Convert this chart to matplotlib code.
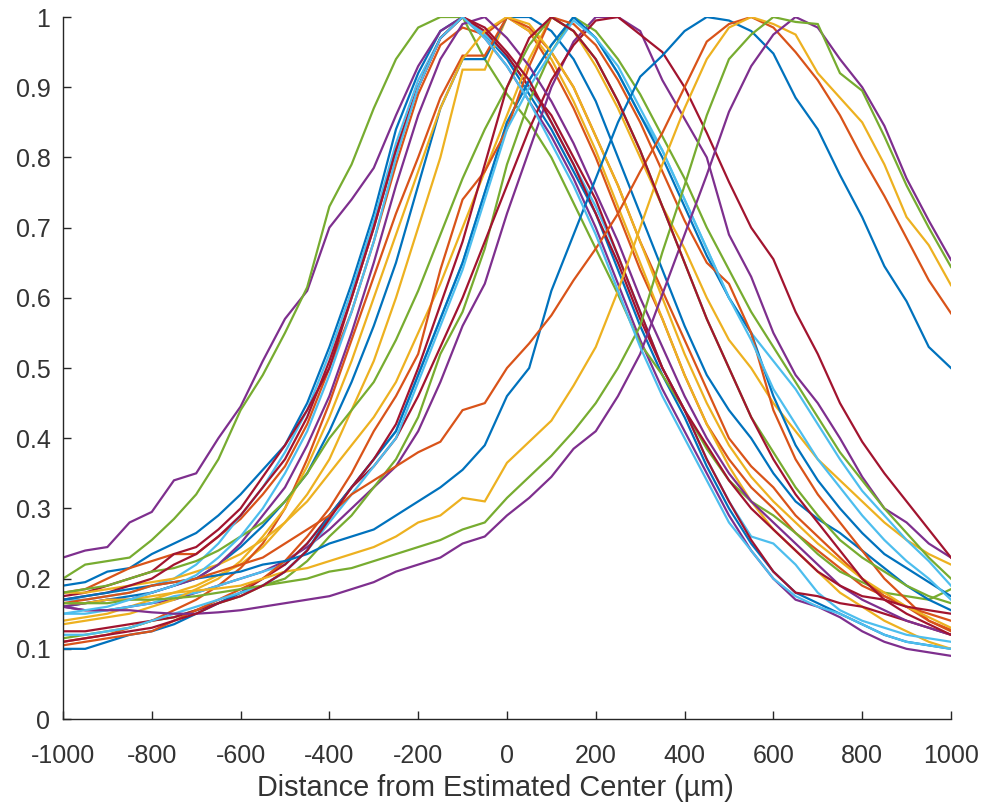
import matplotlib
matplotlib.use("Agg")
import matplotlib.pyplot as plt

plt.rcParams['font.family'] = ['Liberation Sans', 'DejaVu Sans']
plt.rcParams['axes.unicode_minus'] = False

# sample positions (um)
distance_um = list(range(-1000, 1001, 50))

# normalised profiles
profile_01 = [0.19, 0.195, 0.21, 0.215, 0.235, 0.25, 0.265, 0.29, 0.32, 0.355, 0.39, 0.45, 0.53, 0.62, 0.72, 0.84, 0.92, 0.98, 1.0, 0.975, 0.94, 0.89, 0.84, 0.78, 0.72, 0.64, 0.56, 0.49, 0.43, 0.36, 0.30, 0.25, 0.21, 0.18, 0.165, 0.15, 0.135, 0.12, 0.11, 0.105, 0.10]
profile_02 = [0.18, 0.185, 0.20, 0.215, 0.225, 0.235, 0.235, 0.26, 0.285, 0.32, 0.36, 0.42, 0.50, 0.58, 0.68, 0.79, 0.89, 0.96, 0.985, 0.975, 1.0, 0.98, 0.93, 0.87, 0.80, 0.72, 0.64, 0.57, 0.49, 0.42, 0.37, 0.33, 0.30, 0.265, 0.24, 0.215, 0.19, 0.175, 0.16, 0.15, 0.14]
profile_03 = [0.14, 0.145, 0.15, 0.16, 0.17, 0.18, 0.19, 0.205, 0.22, 0.245, 0.28, 0.32, 0.37, 0.44, 0.51, 0.60, 0.70, 0.80, 0.925, 0.925, 1.0, 0.98, 0.94, 0.88, 0.81, 0.73, 0.65, 0.57, 0.49, 0.42, 0.36, 0.31, 0.27, 0.24, 0.21, 0.18, 0.16, 0.14, 0.125, 0.11, 0.10]
profile_04 = [0.23, 0.24, 0.245, 0.28, 0.295, 0.34, 0.35, 0.40, 0.445, 0.51, 0.57, 0.61, 0.70, 0.74, 0.785, 0.86, 0.93, 0.98, 1.0, 0.97, 0.93, 0.88, 0.83, 0.77, 0.70, 0.62, 0.54, 0.47, 0.41, 0.35, 0.29, 0.24, 0.20, 0.17, 0.16, 0.145, 0.125, 0.11, 0.10, 0.095, 0.09]
profile_05 = [0.20, 0.22, 0.225, 0.23, 0.255, 0.285, 0.32, 0.37, 0.44, 0.49, 0.55, 0.615, 0.73, 0.79, 0.87, 0.94, 0.985, 1.0, 1.0, 0.94, 0.89, 0.85, 0.80, 0.735, 0.67, 0.605, 0.535, 0.49, 0.44, 0.385, 0.34, 0.31, 0.29, 0.265, 0.235, 0.21, 0.195, 0.18, 0.175, 0.17, 0.185]
profile_06 = [0.17, 0.17, 0.175, 0.18, 0.19, 0.20, 0.22, 0.25, 0.29, 0.33, 0.38, 0.44, 0.52, 0.61, 0.71, 0.82, 0.91, 0.97, 1.0, 0.975, 0.945, 0.90, 0.85, 0.79, 0.73, 0.66, 0.58, 0.50, 0.44, 0.37, 0.31, 0.26, 0.25, 0.22, 0.18, 0.155, 0.14, 0.13, 0.12, 0.115, 0.11]
profile_07 = [0.175, 0.18, 0.19, 0.20, 0.21, 0.235, 0.245, 0.27, 0.30, 0.345, 0.39, 0.44, 0.50, 0.60, 0.70, 0.81, 0.90, 0.97, 1.0, 0.98, 0.945, 0.90, 0.86, 0.80, 0.74, 0.66, 0.58, 0.50, 0.44, 0.37, 0.31, 0.255, 0.21, 0.18, 0.175, 0.165, 0.16, 0.15, 0.14, 0.13, 0.12]
profile_08 = [0.16, 0.165, 0.17, 0.175, 0.18, 0.19, 0.20, 0.22, 0.245, 0.275, 0.31, 0.35, 0.41, 0.48, 0.56, 0.65, 0.76, 0.87, 0.94, 0.94, 1.0, 1.0, 0.98, 0.94, 0.88, 0.80, 0.72, 0.64, 0.56, 0.49, 0.44, 0.40, 0.35, 0.31, 0.285, 0.265, 0.24, 0.215, 0.19, 0.17, 0.155]
profile_09 = [0.11, 0.115, 0.12, 0.13, 0.14, 0.155, 0.17, 0.19, 0.215, 0.25, 0.30, 0.37, 0.45, 0.54, 0.63, 0.72, 0.80, 0.885, 0.945, 0.945, 1.0, 0.985, 0.95, 0.90, 0.83, 0.76, 0.68, 0.61, 0.54, 0.47, 0.40, 0.36, 0.33, 0.29, 0.26, 0.23, 0.20, 0.175, 0.16, 0.14, 0.125]
profile_10 = [0.18, 0.18, 0.185, 0.19, 0.195, 0.20, 0.21, 0.22, 0.235, 0.255, 0.28, 0.31, 0.35, 0.39, 0.43, 0.48, 0.55, 0.62, 0.70, 0.78, 0.86, 0.94, 1.0, 0.98, 0.93, 0.87, 0.80, 0.73, 0.67, 0.60, 0.54, 0.50, 0.45, 0.41, 0.37, 0.34, 0.31, 0.28, 0.255, 0.235, 0.22]
profile_11 = [0.16, 0.155, 0.155, 0.16, 0.165, 0.17, 0.18, 0.19, 0.20, 0.21, 0.225, 0.245, 0.27, 0.30, 0.33, 0.36, 0.41, 0.48, 0.56, 0.62, 0.72, 0.81, 0.90, 0.965, 1.0, 1.0, 0.98, 0.91, 0.855, 0.80, 0.69, 0.63, 0.55, 0.49, 0.45, 0.40, 0.345, 0.30, 0.28, 0.25, 0.23]
profile_12 = [0.115, 0.12, 0.125, 0.13, 0.14, 0.145, 0.155, 0.165, 0.175, 0.19, 0.20, 0.225, 0.26, 0.29, 0.33, 0.37, 0.43, 0.52, 0.58, 0.67, 0.79, 0.88, 0.95, 1.0, 0.98, 0.94, 0.89, 0.83, 0.77, 0.70, 0.64, 0.58, 0.53, 0.48, 0.43, 0.38, 0.34, 0.30, 0.265, 0.23, 0.20]
profile_13 = [0.15, 0.15, 0.155, 0.16, 0.165, 0.175, 0.18, 0.19, 0.20, 0.21, 0.22, 0.25, 0.29, 0.33, 0.37, 0.41, 0.49, 0.57, 0.65, 0.75, 0.85, 0.91, 0.96, 1.0, 0.97, 0.92, 0.86, 0.81, 0.74, 0.67, 0.60, 0.55, 0.51, 0.47, 0.42, 0.37, 0.325, 0.29, 0.255, 0.225, 0.19]
profile_14 = [0.125, 0.125, 0.13, 0.135, 0.14, 0.145, 0.155, 0.165, 0.18, 0.20, 0.22, 0.25, 0.29, 0.33, 0.36, 0.40, 0.46, 0.53, 0.60, 0.68, 0.76, 0.84, 0.91, 0.96, 0.995, 1.0, 0.975, 0.95, 0.90, 0.835, 0.765, 0.70, 0.655, 0.58, 0.52, 0.45, 0.395, 0.35, 0.31, 0.27, 0.23]
profile_15 = [0.10, 0.10, 0.11, 0.12, 0.125, 0.135, 0.15, 0.165, 0.18, 0.19, 0.21, 0.24, 0.29, 0.33, 0.37, 0.41, 0.49, 0.57, 0.65, 0.75, 0.85, 0.91, 0.96, 1.0, 0.97, 0.92, 0.86, 0.80, 0.73, 0.66, 0.60, 0.55, 0.46, 0.39, 0.34, 0.30, 0.265, 0.235, 0.215, 0.195, 0.175]
profile_16 = [0.105, 0.11, 0.115, 0.12, 0.125, 0.14, 0.155, 0.17, 0.185, 0.20, 0.225, 0.26, 0.30, 0.35, 0.41, 0.46, 0.52, 0.64, 0.74, 0.78, 0.84, 0.93, 1.0, 0.99, 0.96, 0.91, 0.85, 0.78, 0.71, 0.65, 0.62, 0.55, 0.44, 0.37, 0.32, 0.28, 0.24, 0.20, 0.17, 0.14, 0.127]
profile_17 = [0.135, 0.14, 0.145, 0.15, 0.16, 0.17, 0.185, 0.20, 0.225, 0.26, 0.30, 0.36, 0.43, 0.51, 0.60, 0.69, 0.78, 0.87, 0.94, 0.98, 1.0, 0.99, 0.95, 0.90, 0.83, 0.76, 0.68, 0.60, 0.52, 0.45, 0.39, 0.345, 0.31, 0.28, 0.25, 0.225, 0.20, 0.18, 0.16, 0.145, 0.13]
profile_18 = [0.16, 0.165, 0.17, 0.17, 0.18, 0.19, 0.20, 0.22, 0.25, 0.29, 0.33, 0.39, 0.46, 0.55, 0.65, 0.76, 0.86, 0.94, 0.99, 1.0, 0.97, 0.93, 0.88, 0.82, 0.75, 0.68, 0.60, 0.53, 0.46, 0.40, 0.35, 0.31, 0.28, 0.25, 0.22, 0.19, 0.17, 0.155, 0.14, 0.13, 0.12]
profile_19 = [0.18, 0.185, 0.19, 0.20, 0.21, 0.215, 0.225, 0.24, 0.26, 0.28, 0.31, 0.35, 0.40, 0.44, 0.48, 0.54, 0.61, 0.69, 0.77, 0.84, 0.90, 0.96, 1.0, 0.98, 0.94, 0.88, 0.81, 0.73, 0.65, 0.57, 0.50, 0.43, 0.38, 0.33, 0.29, 0.255, 0.23, 0.21, 0.19, 0.175, 0.165]
profile_20 = [0.12, 0.12, 0.125, 0.13, 0.14, 0.15, 0.16, 0.17, 0.18, 0.19, 0.21, 0.24, 0.28, 0.32, 0.36, 0.40, 0.48, 0.56, 0.64, 0.74, 0.84, 0.90, 0.95, 0.995, 0.97, 0.93, 0.87, 0.81, 0.74, 0.67, 0.60, 0.54, 0.47, 0.42, 0.37, 0.33, 0.29, 0.255, 0.225, 0.20, 0.17]
profile_21 = [0.17, 0.175, 0.18, 0.19, 0.20, 0.22, 0.235, 0.26, 0.29, 0.33, 0.37, 0.43, 0.51, 0.60, 0.70, 0.81, 0.90, 0.97, 1.0, 0.985, 0.95, 0.91, 0.85, 0.79, 0.72, 0.65, 0.57, 0.50, 0.44, 0.39, 0.34, 0.30, 0.27, 0.24, 0.21, 0.19, 0.175, 0.17, 0.16, 0.155, 0.15]
profile_22 = [0.17, 0.175, 0.18, 0.185, 0.19, 0.195, 0.20, 0.205, 0.21, 0.22, 0.225, 0.235, 0.25, 0.26, 0.27, 0.29, 0.31, 0.33, 0.355, 0.39, 0.46, 0.50, 0.61, 0.69, 0.77, 0.85, 0.915, 0.945, 0.98, 1.0, 0.995, 0.98, 0.948, 0.885, 0.84, 0.775, 0.715, 0.645, 0.595, 0.53, 0.50]
profile_23 = [0.165, 0.17, 0.175, 0.18, 0.19, 0.195, 0.20, 0.21, 0.22, 0.23, 0.25, 0.27, 0.29, 0.32, 0.34, 0.36, 0.38, 0.395, 0.44, 0.45, 0.50, 0.535, 0.575, 0.625, 0.67, 0.72, 0.78, 0.835, 0.90, 0.965, 0.99, 1.0, 0.985, 0.95, 0.91, 0.86, 0.80, 0.745, 0.685, 0.625, 0.578]
profile_24 = [0.165, 0.165, 0.17, 0.17, 0.175, 0.18, 0.183, 0.186, 0.19, 0.20, 0.21, 0.215, 0.225, 0.235, 0.245, 0.26, 0.28, 0.29, 0.315, 0.31, 0.365, 0.395, 0.425, 0.475, 0.53, 0.61, 0.70, 0.79, 0.87, 0.94, 0.985, 1.0, 0.99, 0.975, 0.92, 0.885, 0.85, 0.79, 0.715, 0.675, 0.618]
profile_25 = [0.16, 0.155, 0.155, 0.155, 0.152, 0.15, 0.15, 0.152, 0.155, 0.16, 0.165, 0.17, 0.175, 0.185, 0.195, 0.21, 0.22, 0.23, 0.25, 0.26, 0.29, 0.315, 0.345, 0.385, 0.41, 0.46, 0.52, 0.605, 0.69, 0.775, 0.865, 0.93, 0.975, 1.0, 0.985, 0.94, 0.90, 0.845, 0.77, 0.71, 0.654]
profile_26 = [0.165, 0.165, 0.165, 0.17, 0.17, 0.172, 0.175, 0.18, 0.185, 0.19, 0.195, 0.20, 0.21, 0.215, 0.225, 0.235, 0.245, 0.255, 0.27, 0.28, 0.315, 0.345, 0.375, 0.41, 0.45, 0.50, 0.56, 0.665, 0.76, 0.86, 0.94, 0.975, 1.0, 0.993, 0.99, 0.92, 0.895, 0.83, 0.76, 0.70, 0.644]
profile_27 = [0.15, 0.155, 0.16, 0.17, 0.18, 0.19, 0.205, 0.23, 0.26, 0.30, 0.35, 0.41, 0.49, 0.58, 0.68, 0.80, 0.90, 0.97, 1.0, 0.97, 0.93, 0.88, 0.82, 0.76, 0.69, 0.61, 0.53, 0.46, 0.40, 0.34, 0.28, 0.24, 0.20, 0.175, 0.16, 0.15, 0.135, 0.12, 0.11, 0.105, 0.10]
profile_28 = [0.11, 0.115, 0.12, 0.125, 0.13, 0.14, 0.15, 0.165, 0.175, 0.19, 0.21, 0.24, 0.285, 0.33, 0.37, 0.42, 0.50, 0.59, 0.68, 0.79, 0.90, 0.97, 1.0, 0.98, 0.94, 0.88, 0.81, 0.73, 0.65, 0.57, 0.50, 0.43, 0.37, 0.32, 0.28, 0.24, 0.20, 0.17, 0.15, 0.135, 0.12]

profiles = [profile_01, profile_02, profile_03, profile_04, profile_05, profile_06, profile_07,
            profile_08, profile_09, profile_10, profile_11, profile_12, profile_13, profile_14,
            profile_15, profile_16, profile_17, profile_18, profile_19, profile_20, profile_21,
            profile_22, profile_23, profile_24, profile_25, profile_26, profile_27, profile_28]

x_ticks = [-1000, -800, -600, -400, -200, 0, 200, 400, 600, 800, 1000]
y_ticks = [0, 0.1, 0.2, 0.3, 0.4, 0.5, 0.6, 0.7, 0.8, 0.9, 1]
y_ticklabels = ['0', '0.1', '0.2', '0.3', '0.4', '0.5', '0.6', '0.7', '0.8', '0.9', '1']

# matlab default line colours
matlab_colors = ['#0072BD', '#D95319', '#EDB120', '#7E2F8E', '#77AC30', '#4DBEEE', '#A2142F']
text_color = '#333333'

fig = plt.figure(figsize=(9.87, 8.10), dpi=100)
ax = fig.add_axes([0.0638, 0.1123, 0.8997, 0.8667])
ax.set_prop_cycle(color=matlab_colors)

for p in profiles:
    ax.plot(distance_um, p, lw=1.6, solid_joinstyle='miter')

ax.set_xlim(-1000, 1000)
ax.set_ylim(0, 1)
ax.set_xticks(x_ticks)
ax.set_yticks(y_ticks)
ax.set_yticklabels(y_ticklabels)

ax.spines['right'].set_visible(False)
ax.spines['top'].set_visible(False)
for s in ['left', 'bottom']:
    ax.spines[s].set_color('#262626')
    ax.spines[s].set_linewidth(1.0)
ax.tick_params(direction='in', length=6, width=1.0, colors='#262626',
               labelsize=18, labelcolor=text_color)
ax.tick_params(axis='x', pad=18)
ax.tick_params(axis='y', pad=9)

ax.set_xlabel('Distance from Estimated Center (\u00b5m)', fontsize=20.8,
              color=text_color)
ax.xaxis.set_label_coords(0.4865, -0.079, transform=ax.transAxes)
ax.xaxis.label.set_verticalalignment('top')

fig.savefig('out.png', dpi=100)
